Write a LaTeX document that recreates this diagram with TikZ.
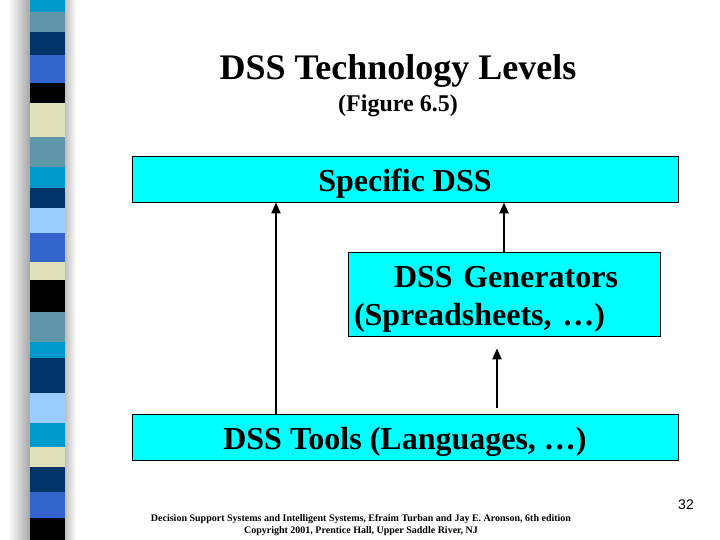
\documentclass[tikz,border=0pt]{standalone}
\usepackage{fontspec}
\setmainfont{Liberation Serif}
\setsansfont{Liberation Sans}
\usetikzlibrary{arrows.meta}
\usepackage{xcolor}
\definecolor{boxcyan}{RGB}{0,255,255}
\definecolor{stripecyan}{RGB}{0,153,204}
\definecolor{stripegray}{RGB}{95,150,170}
\definecolor{stripenavy}{RGB}{0,51,102}
\definecolor{striperoyal}{RGB}{51,102,204}
\definecolor{stripebeige}{RGB}{224,224,184}
\definecolor{stripesky}{RGB}{153,204,255}

\begin{document}
\begin{tikzpicture}[x=1pt,y=-1pt,
        level/.style = {draw=black, line width=0.8pt, fill=boxcyan, text=black, inner ysep=2pt, font=\fontsize{32}{38}\selectfont\bfseries},
        lines/.style = {line width=2pt, -{Triangle[length=11pt,width=9pt]}}]
        \useasboundingbox (0,0) rectangle (720,540);

        % decoration bar on the left
        \shade[left color=white, right color=gray!70] (8,0) rectangle (30,540);
        \shade[left color=gray!50, right color=white] (65,0) rectangle (76,540);
        \foreach \ya/\yb/\col in {0/12/stripecyan, 12/32/stripegray, 32/55/stripenavy, 55/83/striperoyal,
            83/103/black, 103/137/stripebeige, 137/167/stripegray, 167/188/stripecyan, 188/208/stripenavy,
            208/233/stripesky, 233/262/striperoyal, 262/280/stripebeige, 280/312/black, 312/342/stripegray,
            342/358/stripecyan, 358/393/stripenavy, 393/423/stripesky, 423/447/stripecyan, 447/467/stripebeige,
            467/492/stripenavy, 492/518/striperoyal, 518/540/black}
            \fill[\col] (30,\ya) rectangle (65,\yb);

        \node[font=\fontsize{36}{40}\selectfont\bfseries] (title) at (398,71) {DSS Technology Levels};
        \node[font=\fontsize{24}{28}\selectfont\bfseries] (fig) at (398,106) {(Figure 6.5)};

        \node[level, minimum width=546pt, minimum height=46pt, text height=25pt, text depth=0pt] (spec) at (405,179) {Specific DSS};
        \node[level, minimum width=312pt, minimum height=84pt, inner xsep=6pt, text width=300pt, align=left,
            text height=25pt, text depth=38pt] (gen) at (504,294)
            {\hspace{40pt}DSS Generators\\(Spreadsheets, \dots)};
        \node[level, minimum width=546pt, minimum height=46pt, text height=25pt, text depth=0pt] (tools) at (405,437) {DSS Tools (Languages, \dots)};

        \coordinate (la) at (276,0);
        \coordinate (lb) at (497,0);
        \draw[lines] (tools.north -| la) -- (spec.south -| la);
        \draw[lines] (gen.north) -- (spec.south -| gen.north);
        \draw[lines, shorten <=6pt, shorten >=12pt] (tools.north -| lb) -- (gen.south -| lb);

        \node[font=\fontsize{14}{16}\sffamily] (page) at (686,505) {32};
        \node[font=\fontsize{10}{12}\selectfont\bfseries, align=center] (foot) at (361,525)
            {Decision Support Systems and Intelligent Systems, Efraim Turban and Jay E. Aronson, 6th edition\\
             Copyright 2001, Prentice Hall, Upper Saddle River, NJ};
\end{tikzpicture}
\end{document}
